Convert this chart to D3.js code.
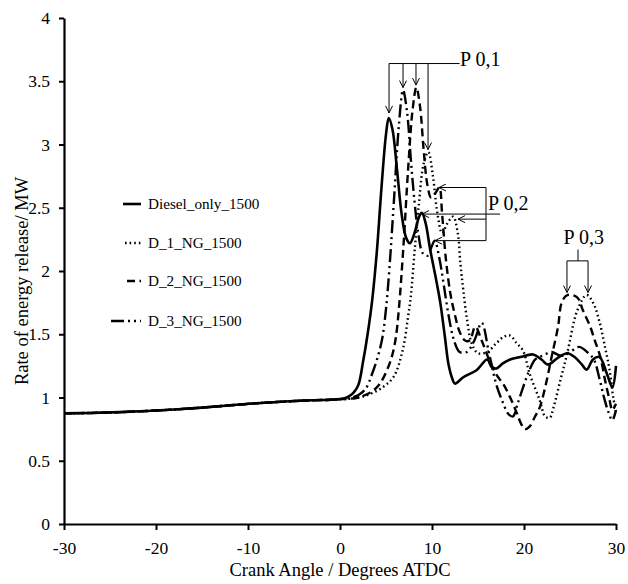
<!DOCTYPE html>
<meta charset="utf-8">
<script src="https://d3js.org/d3.v7.min.js"></script>
<style>
    body {margin: 0; background: #fff;}
</style>
<body>
<svg width="628" height="584"></svg>
<script>
    // shared pre-ignition part, all four runs lie on top of each other here
    const baseX = [-30, -27, -24, -21, -18, -15, -12, -9, -6, -3, -1, 0];
    const baseY = [0.875, 0.878, 0.884, 0.893, 0.905, 0.92, 0.938, 0.955, 0.968, 0.978, 0.982, 0.987];

    const dieselX = [0.5, 1, 1.5, 2, 2.5, 3, 3.5, 4, 4.5, 5, 5.3, 5.7, 6.2, 6.7, 7.2, 7.6, 8.1, 8.6, 8.9, 9.3, 9.8, 10.4, 10.9, 11.4, 11.8, 12.2, 12.5, 13.4, 14.9, 16, 16.5, 17, 17.7, 18.5, 19.6, 21, 21.9, 22.6, 23.6, 24.7, 25.5, 26.3, 26.8, 27.5, 28.2, 29, 29.6, 30];
    const dieselY = [0.995, 1.01, 1.04, 1.1, 1.28, 1.5, 1.77, 2.15, 2.65, 3.08, 3.21, 3.12, 2.8, 2.45, 2.26, 2.22, 2.3, 2.43, 2.46, 2.38, 2.17, 1.95, 1.75, 1.48, 1.26, 1.15, 1.11, 1.16, 1.22, 1.3, 1.24, 1.23, 1.27, 1.3, 1.32, 1.34, 1.3, 1.26, 1.31, 1.35, 1.32, 1.26, 1.22, 1.3, 1.32, 1.19, 1.08, 1.25];

    const ng1X = [1, 2, 3, 4.4, 5.8, 6.8, 7.4, 7.7, 8.1, 8.6, 9.1, 9.6, 10.1, 10.6, 11.1, 11.7, 12.3, 12.8, 13.1, 13.4, 13.8, 14.3, 15, 16, 17, 17.8, 18.5, 19.2, 19.9, 20.6, 21.7, 22.3, 22.8, 23.2, 24, 24.7, 25.8, 26.8, 27.5, 28.2, 28.8, 29.3, 29.7, 30];
    const ng1Y = [0.99, 1.0, 1.02, 1.07, 1.16, 1.37, 1.64, 1.8, 2.15, 2.55, 2.85, 2.94, 2.75, 2.45, 2.3, 2.38, 2.43, 2.3, 2.05, 1.85, 1.62, 1.43, 1.35, 1.36, 1.43, 1.48, 1.49, 1.43, 1.37, 1.19, 0.98, 0.85, 0.84, 0.92, 1.15, 1.35, 1.69, 1.81, 1.75, 1.6, 1.4, 1.22, 1.0, 0.88];

    const ng2X = [1, 2, 3.3, 4, 4.6, 5.4, 5.8, 6.1, 6.4, 6.9, 7.4, 7.9, 8.3, 8.7, 9.1, 9.5, 9.9, 10.4, 10.8, 11.1, 11.5, 12, 12.5, 13, 13.6, 14.1, 14.7, 15.4, 16.2, 17, 17.8, 18.5, 19.2, 19.7, 20.1, 20.6, 21.2, 21.7, 22.3, 23, 23.7, 24.1, 24.7, 25.8, 26.4, 27.2, 27.7, 28.3, 28.8, 29.3, 29.6, 30];
    const ng2Y = [0.99, 1.0, 1.04, 1.08, 1.14, 1.27, 1.37, 1.49, 1.7, 2.2, 2.8, 3.28, 3.45, 3.3, 2.95, 2.68, 2.58, 2.62, 2.66, 2.45, 2.1, 1.82, 1.65, 1.52, 1.45, 1.45, 1.56, 1.45, 1.3, 1.18, 1.1, 1.0, 0.88, 0.79, 0.75, 0.77, 0.85, 0.92, 1.08, 1.32, 1.56, 1.75, 1.81, 1.79, 1.69, 1.56, 1.45, 1.32, 1.14, 0.98, 0.9, 0.95];

    const ng3X = [1, 2, 2.8, 3.5, 4.1, 4.6, 5, 5.4, 5.9, 6.4, 6.85, 7.3, 7.7, 8.1, 8.5, 9, 9.5, 10, 10.3, 10.8, 11.3, 11.8, 12.4, 13, 13.8, 14.6, 15.4, 16.2, 17, 17.6, 18.3, 18.8, 19.3, 19.9, 20.5, 21.2, 22, 23, 24, 25, 26, 27, 27.6, 28.2, 28.7, 29.2, 29.6, 30];
    const ng3Y = [0.995, 1.02, 1.07, 1.19, 1.32, 1.47, 1.7, 2.05, 2.6, 3.15, 3.43, 3.25, 2.88, 2.55, 2.3, 2.14, 2.12, 2.2, 2.24, 2.1, 1.88, 1.65, 1.45, 1.36, 1.36, 1.45, 1.59, 1.35, 1.1, 0.98, 0.87, 0.85, 0.95, 1.08, 1.2, 1.3, 1.33, 1.36, 1.33, 1.36, 1.4, 1.35, 1.3, 1.15, 1.0, 0.88, 0.82, 0.9];

    const seriesNames = ["Diesel_only_1500", "D_1_NG_1500", "D_2_NG_1500", "D_3_NG_1500"];
    const seriesDash = [null, "1.6,3", "8,4.5", "13,4,2,4,2,4"];
    const legendSample = [18, 16, 14, 30];

    const xTicks = [-30, -20, -10, 0, 10, 20, 30];
    const yTicks = [0, 0.5, 1, 1.5, 2, 2.5, 3, 3.5, 4];

    // annotation arrow tips (data units)
    const p01Tips = [[5.33, 3.25], [6.85, 3.45], [8.26, 3.47], [9.57, 2.96]];
    const p02Tips = [[10.76, 2.66], [12.83, 2.41], [10.33, 2.24]];
    const p02Solid = [8.91, 2.45];
    const p03Tips = [[24.67, 1.83], [26.96, 1.83]];

    const SERIF = "'Liberation Serif', 'Times New Roman', Times, serif";

    var svg = d3.select("svg");
    var x = d3.scaleLinear().domain([-30, 30]).range([64, 616]);
    var y = d3.scaleLinear().domain([0, 4]).range([524, 18]);

    function pts(xs, ys) {
        var a = baseX.map(function(v, i) { return [v, baseY[i]]; });
        return a.concat(xs.map(function(v, i) { return [v, ys[i]]; }));
    }
    var series = [pts(dieselX, dieselY), pts(ng1X, ng1Y), pts(ng2X, ng2Y), pts(ng3X, ng3Y)];

    var defs = svg.append("defs");
    defs.append("marker")
        .attr("id", "arr")
        .attr("viewBox", "-8 -4 9 8")
        .attr("refX", 0).attr("refY", 0)
        .attr("markerUnits", "userSpaceOnUse")
        .attr("markerWidth", 9).attr("markerHeight", 8)
        .attr("orient", "auto")
        .append("path")
        .attr("d", "M-7,-3.5 L0,0 L-7,3.5")
        .attr("fill", "none")
        .attr("stroke", "#000")
        .attr("stroke-width", 1);

    // axes (plain hyphen minus like the original, not d3's unicode minus)
    var xAxis = svg.append("g")
        .attr("transform", "translate(0,524)")
        .call(d3.axisBottom(x).tickValues(xTicks).tickSize(6).tickSizeOuter(0).tickPadding(12)
            .tickFormat(function(d) { return String(d); }));
    var yAxis = svg.append("g")
        .attr("transform", "translate(64,0)")
        .call(d3.axisLeft(y).tickValues(yTicks).tickSize(5).tickSizeOuter(0).tickPadding(9)
            .tickFormat(function(d) { return String(d); }));
    [xAxis, yAxis].forEach(function(g) {
        g.attr("font-family", SERIF);
        g.select(".domain").attr("stroke", "#000").attr("stroke-width", 2.2);
        g.selectAll(".tick line").attr("stroke", "#000").attr("stroke-width", 2);
        g.selectAll(".tick text")
            .attr("fill", "#000")
            .style("font-size", "17.5px")
            .style("font-family", SERIF);
    });

    svg.append("text")
        .attr("x", 340).attr("y", 576)
        .attr("text-anchor", "middle")
        .style("font-family", SERIF)
        .style("font-size", "18.5px")
        .text("Crank Angle / Degrees ATDC");
    svg.append("text")
        .attr("transform", "translate(28,281) rotate(-90)")
        .attr("text-anchor", "middle")
        .style("font-family", SERIF)
        .style("font-size", "18.5px")
        .text("Rate of energy release/ MW");

    // curves
    var line = d3.line()
        .x(function(d) { return x(d[0]); })
        .y(function(d) { return y(d[1]); })
        .curve(d3.curveCatmullRom.alpha(0.5));
    svg.append("g").selectAll("path")
        .data(series)
        .enter().append("path")
        .attr("d", line)
        .attr("fill", "none")
        .attr("stroke", "#000")
        .attr("stroke-width", function(d, i) { return i == 0 ? 2.6 : 2.4; })
        .attr("stroke-dasharray", function(d, i) { return seriesDash[i]; });

    // legend
    var legendY = [204, 243, 281, 321];
    var leg = svg.append("g");
    seriesNames.forEach(function(n, i) {
        leg.append("line")
            .attr("x1", 141 - legendSample[i]).attr("x2", 141)
            .attr("y1", legendY[i]).attr("y2", legendY[i])
            .attr("stroke", "#000")
            .attr("stroke-width", 2.6)
            .attr("stroke-dasharray", seriesDash[i]);
        leg.append("text")
            .attr("x", 148).attr("y", legendY[i] + 5)
            .style("font-family", SERIF)
            .style("font-size", "15.2px")
            .text(n);
    });

    // annotations
    var ann = svg.append("g").attr("stroke", "#000").attr("stroke-width", 1).attr("fill", "none");
    function arrow(x1, y1, x2, y2) {
        ann.append("line").attr("x1", x1).attr("y1", y1).attr("x2", x2).attr("y2", y2)
            .attr("marker-end", "url(#arr)");
    }
    function seg(x1, y1, x2, y2) {
        ann.append("line").attr("x1", x1).attr("y1", y1).attr("x2", x2).attr("y2", y2);
    }
    function label(t, px, py) {
        svg.append("text").attr("x", px).attr("y", py)
            .style("font-family", SERIF)
            .style("font-size", "20px").text(t);
    }

    // P 0,1
    var barY = y(3.64);
    seg(x(p01Tips[0][0]), barY, x(13.0), barY);
    p01Tips.forEach(function(t) { arrow(x(t[0]), barY, x(t[0]), y(t[1])); });
    label("P 0,1", x(13.05), y(3.62));

    // P 0,2
    var brX = x(15.87);
    arrow(x(17.4), y(p02Solid[1]), x(p02Solid[0]), y(p02Solid[1]));
    seg(brX, y(p02Tips[0][1]), brX, y(p02Tips[2][1]));
    p02Tips.forEach(function(t) { arrow(brX, y(t[1]), x(t[0]), y(t[1])); });
    label("P 0,2", x(16.1), y(2.48));

    // P 0,3
    var p3Bar = y(2.08);
    seg(x(25.87), y(2.17), x(25.87), p3Bar);
    seg(x(p03Tips[0][0]), p3Bar, x(p03Tips[1][0]), p3Bar);
    p03Tips.forEach(function(t) { arrow(x(t[0]), p3Bar, x(t[0]), y(t[1])); });
    label("P 0,3", x(24.3), y(2.21));
</script>
</body>
